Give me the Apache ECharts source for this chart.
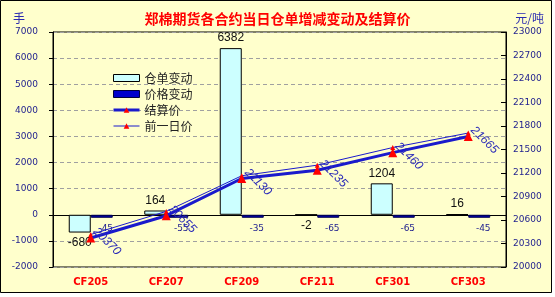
<!DOCTYPE html>
<html><head><meta charset="utf-8">
<script src="https://cdn.jsdelivr.net/npm/echarts@6/dist/echarts.min.js"></script>
<style>html,body{margin:0;padding:0;background:#fff}#c{width:555px;height:297px}</style>
</head><body><div id="c"></div>
<script>
const categories = ['CF205','CF207','CF209','CF211','CF301','CF303'];
const warrantChange = [-680, 164, 6382, -2, 1204, 16];
const priceChange = [-45, -55, -35, -65, -65, -45];
const settlePrice = [20370, 20655, 21130, 21235, 21460, 21665];
const prevPrice = [20415, 20710, 21165, 21300, 21525, 21710];
const leftTicks = {min: -2000, max: 7000, interval: 1000};
const rightTicks = {min: 20000, max: 23000, interval: 300};

const navy = '#23238f';
const lineBlue = '#1a1acc';
const plain = v => String(v);
const chart = echarts.init(document.getElementById('c'), null, {renderer: 'canvas'});
chart.setOption({
  animation: false,
  backgroundColor: '#fff',
  graphic: [{type: 'rect', z: -10, shape: {x: 0.5, y: 0.5, width: 551, height: 292},
    style: {fill: '#FFFFCC', stroke: '#000', lineWidth: 1}}],
  title: [
    {text: '郑棉期货各合约当日仓单增减变动及结算价', left: 'center', top: 7,
     textStyle: {color: '#ff0000', fontSize: 14, fontWeight: 'bold', fontFamily: 'Noto Sans CJK SC'}},
    {text: '手', left: 8, top: 7, textStyle: {color: '#2a2ab0', fontSize: 12, fontWeight: 'normal', fontFamily: 'Noto Sans CJK SC'}},
    {text: '元/吨', right: 6, top: 7, textStyle: {color: '#2a2ab0', fontSize: 12, fontWeight: 'normal', fontFamily: 'Noto Sans CJK SC'}}
  ],
  legend: {
    orient: 'vertical', left: 107, top: 67, itemWidth: 26, itemHeight: 7, itemGap: 4,
    textStyle: {color: '#222', fontSize: 12, fontFamily: 'Noto Sans CJK SC'},
    data: [
      {name: '仓单变动', icon: 'rect', itemStyle: {color: '#CCFFFF', borderColor: '#000', borderWidth: 1}},
      {name: '价格变动', icon: 'rect', itemStyle: {color: '#0000CC', borderColor: '#000040', borderWidth: 1}},
      {name: '结算价', itemStyle: {color: '#ff0000'}, lineStyle: {color: lineBlue, width: 3}},
      {name: '前一日价', itemStyle: {color: '#ff0000'}, lineStyle: {color: lineBlue, width: 1}}
    ]
  },
  grid: {left: 53, right: 49, top: 32, bottom: 30, show: true, borderColor: '#000', borderWidth: 1, backgroundColor: '#FFFFCC'},
  xAxis: [
    {type: 'category', data: categories, position: 'bottom',
     axisLine: {show: false}, axisTick: {show: false},
     axisLabel: {color: '#ff0000', fontWeight: 'bold', fontSize: 10, fontFamily: 'DejaVu Sans', margin: 10}},
    {type: 'category', data: categories, position: 'bottom',
     axisLine: {onZero: true, onZeroAxisIndex: 0, lineStyle: {color: '#000', width: 1}},
     axisTick: {inside: true, length: 4, lineStyle: {color: '#000'}},
     axisLabel: {show: false}}
  ],
  yAxis: [
    {type: 'value', min: leftTicks.min, max: leftTicks.max, interval: leftTicks.interval,
     axisLine: {show: true, lineStyle: {color: '#000'}},
     axisTick: {show: true, length: 4, lineStyle: {color: '#000'}},
     axisLabel: {color: navy, fontSize: 9, fontFamily: 'DejaVu Sans', margin: 15, formatter: plain},
     splitLine: {show: true, lineStyle: {color: '#a0a0a0', type: [4, 3], width: 1}}},
    {type: 'value', min: rightTicks.min, max: rightTicks.max, interval: rightTicks.interval, position: 'right',
     axisLine: {show: true, lineStyle: {color: '#000'}},
     axisTick: {show: true, inside: true, length: 5, lineStyle: {color: '#000'}},
     axisLabel: {color: navy, fontSize: 9, fontFamily: 'DejaVu Sans', margin: 7, formatter: plain},
     splitLine: {show: false}}
  ],
  series: [
    {name: '仓单变动', type: 'bar', xAxisIndex: 0, yAxisIndex: 0, barWidth: 22, barGap: '0%',
     itemStyle: {color: '#CCFFFF', borderColor: '#000', borderWidth: 1},
     data: warrantChange.map(v => ({value: v, label: {position: v < 0 ? 'bottom' : 'top'}})),
     label: {show: true, color: '#111', fontSize: 12, fontFamily: 'Liberation Sans', distance: 4, formatter: p => plain(p.value)}},
    {name: '价格变动', type: 'bar', xAxisIndex: 0, yAxisIndex: 0, barWidth: 22, barGap: '0%', barMinHeight: 3,
     itemStyle: {color: '#0000AA', borderColor: '#000050', borderWidth: 1},
     data: priceChange,
     label: {show: true, position: 'bottom', color: navy, fontSize: 9, fontFamily: 'DejaVu Sans', distance: 6, offset: [4, 0], formatter: p => plain(p.value)}},
    {name: '前一日价', type: 'line', xAxisIndex: 0, yAxisIndex: 1, data: prevPrice,
     lineStyle: {color: lineBlue, width: 1}, itemStyle: {color: '#ff0000'},
     symbol: 'triangle', symbolSize: 5, z: 3},
    {name: '结算价', type: 'line', xAxisIndex: 0, yAxisIndex: 1, data: settlePrice,
     lineStyle: {color: lineBlue, width: 3}, itemStyle: {color: '#ff0000'},
     symbol: 'triangle', symbolSize: 9, z: 4,
     label: {show: true, position: 'inside', offset: [14, -9], rotate: -45, align: 'center', verticalAlign: 'middle',
       color: '#2a2ab8', fontSize: 12, fontStyle: 'italic', fontFamily: 'Liberation Sans', formatter: p => plain(p.value)}}
  ]
});
</script></body></html>
